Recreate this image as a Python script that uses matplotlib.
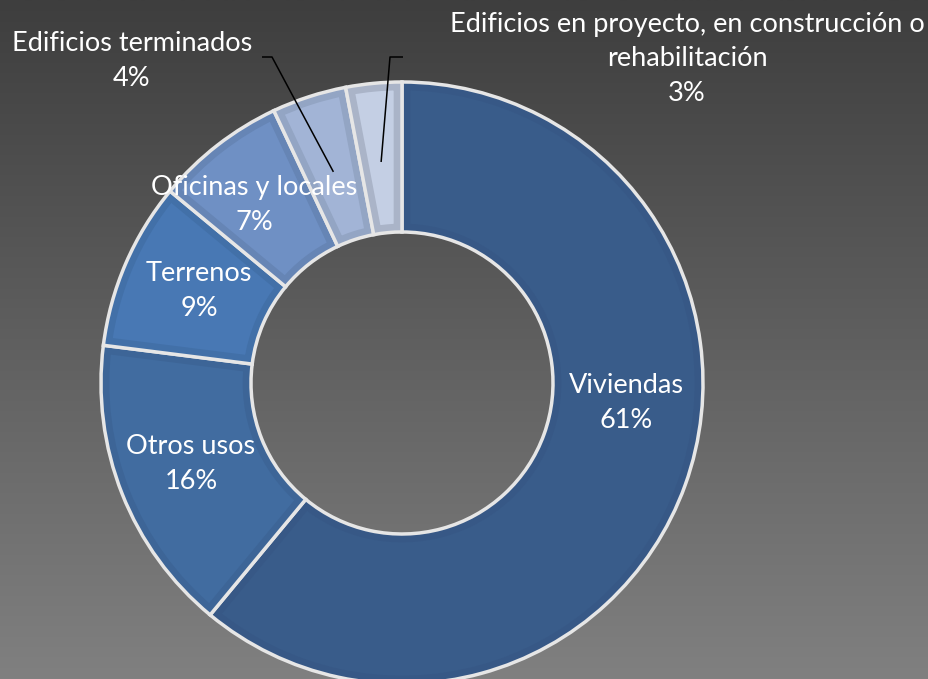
import numpy as np
import matplotlib.pyplot as plt
from matplotlib.patches import Wedge

# data
labels = ["Viviendas", "Otros usos", "Terrenos", "Oficinas y locales",
          "Edificios terminados",
          "Edificios en proyecto, en construcción o\nrehabilitación"]
values = [61, 16, 9, 7, 4, 3]
face_colors = ["#395c8a", "#416ca0", "#4878b4", "#6f90c4", "#a2b4d6", "#c4cfe4"]
rim_colors = ["#375886", "#3d6597", "#4270a8", "#6685b5", "#93a5c4", "#aab4c8"]

# label text positions in pixels (centre of text block)
label_pos = [(626, 403), (191, 464), (199, 291), (254, 205), (132, 61), (687, 59)]

W, H = 929, 679
fig = plt.figure(figsize=(W / 100, H / 100), dpi=100)

# gradient background
bg = fig.add_axes([0, 0, 1, 1])
grad = np.linspace(0, 1, 256).reshape(-1, 1)
bg.imshow(grad, aspect="auto", cmap=plt.matplotlib.colors.LinearSegmentedColormap.from_list(
    "g", ["#3e3e3e", "#808080"]), extent=[0, 1, 0, 1], origin="upper")
bg.axis("off")

ax = fig.add_axes([0, 0, 1, 1])
ax.patch.set_alpha(0)
cx, cy, R, ring = 402, H - 383, 301, 150

wedges, _ = ax.pie(values, colors=face_colors, startangle=90, counterclock=False,
                   radius=R, center=(cx, cy),
                   wedgeprops=dict(width=ring, edgecolor="none"))

for w, rc in zip(wedges, rim_colors):
    rim = Wedge(w.center, w.r, w.theta1, w.theta2, width=w.width,
                facecolor="none", edgecolor=rc, linewidth=12)
    ax.add_patch(rim)
    rim.set_clip_path(w)
    edge = Wedge(w.center, w.r, w.theta1, w.theta2, width=w.width,
                 facecolor="none", edgecolor="#e6e6e6", linewidth=2.5)
    ax.add_patch(edge)

ax.set_xlim(0, W)
ax.set_ylim(0, H)
ax.set_aspect("equal")
ax.axis("off")

font = "Lato"
for lab, v, (x, y) in zip(labels, values, label_pos):
    ax.text(x, H - y, f"{lab}\n{v}%", ha="center", va="center", color="white",
            fontsize=19.5, family=font, linespacing=1.47)

# leader lines for the two small slices
for i, hx in [(4, 262), (5, 403)]:
    w = wedges[i]
    mid = np.deg2rad((w.theta1 + w.theta2) / 2)
    ex, ey = cx + 222 * np.cos(mid), cy + 222 * np.sin(mid)
    corner = 272 if i == 4 else 390
    ax.plot([hx, corner, ex], [H - 57, H - 57, ey], color="black", lw=1.1,
            solid_capstyle="butt")

fig.savefig("out.png", dpi=100)
